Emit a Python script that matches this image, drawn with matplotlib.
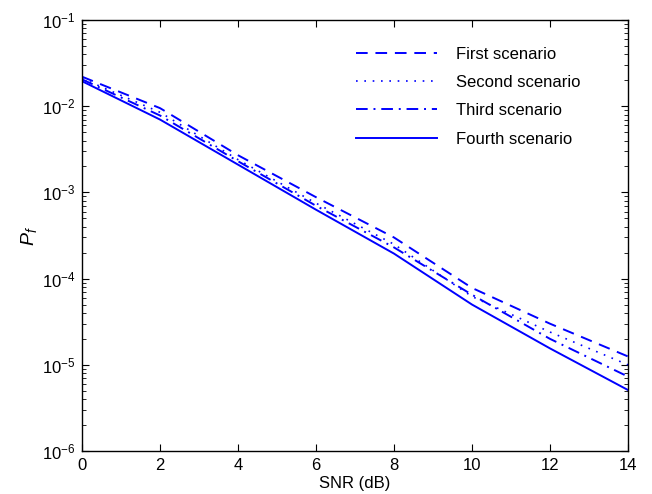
import matplotlib
matplotlib.use("Agg")
import matplotlib.pyplot as plt
from matplotlib.ticker import LogLocator, NullFormatter

snr = [0, 2, 4, 6, 8, 10, 12, 14]
first = [0.022, 0.0095, 0.0027, 8.8e-4, 3.0e-4, 7.8e-5, 3.0e-5, 1.25e-5]
second = [0.021, 0.0085, 0.0024, 7.5e-4, 2.5e-4, 6.2e-5, 2.4e-5, 1.0e-5]
third = [0.0205, 0.0078, 0.0023, 7.0e-4, 2.3e-4, 6.5e-5, 2.0e-5, 7.3e-6]
fourth = [0.0195, 0.0070, 0.0021, 6.3e-4, 1.95e-4, 5.0e-5, 1.55e-5, 5.1e-6]
labels = ["First scenario", "Second scenario", "Third scenario", "Fourth scenario"]

plt.rcParams['font.family'] = ['Liberation Sans', 'DejaVu Sans']
plt.rcParams['mathtext.fontset'] = 'custom'
plt.rcParams['mathtext.rm'] = 'Liberation Sans'
plt.rcParams['mathtext.it'] = 'Liberation Sans:italic'

fig = plt.figure(figsize=(6.52, 4.94), dpi=100)
ax = fig.add_axes([0.1258, 0.087, 0.8374, 0.8725])
c = '#0000ff'
ax.plot(snr, first, color=c, lw=1.4, linestyle=(0, (6, 4)), label=labels[0])
ax.plot(snr, second, color=c, lw=1.2, linestyle=(0, (1, 4)), label=labels[1])
ax.plot(snr, third, color=c, lw=1.4, linestyle=(0, (6, 3, 1, 3)), label=labels[2])
ax.plot(snr, fourth, color=c, lw=1.4, linestyle='-', label=labels[3])

ax.set_yscale('log')
ax.set_xlim(0, 14)
ax.set_ylim(1e-6, 1e-1)
ax.set_xticks(snr)
ax.yaxis.set_major_locator(LogLocator(base=10, numticks=10))
ax.yaxis.set_minor_locator(LogLocator(base=10, subs=range(2, 10), numticks=20))
ax.yaxis.set_minor_formatter(NullFormatter())
ax.tick_params(which='both', direction='in', top=True, right=True, labelsize=12)
ax.tick_params(which='major', length=5, pad=5)
ax.tick_params(which='minor', length=3)
for s in ax.spines.values():
    s.set_linewidth(1.0)
ax.set_xlabel('SNR (dB)', fontsize=12, labelpad=2)
ax.set_ylabel('$P_f$', fontsize=14, labelpad=2)
leg = ax.legend(loc='upper right', frameon=False, fontsize=12, handlelength=4.9,
                handletextpad=1.1, labelspacing=0.8, bbox_to_anchor=(0.94, 0.973))
fig.savefig('out.png', dpi=100)
